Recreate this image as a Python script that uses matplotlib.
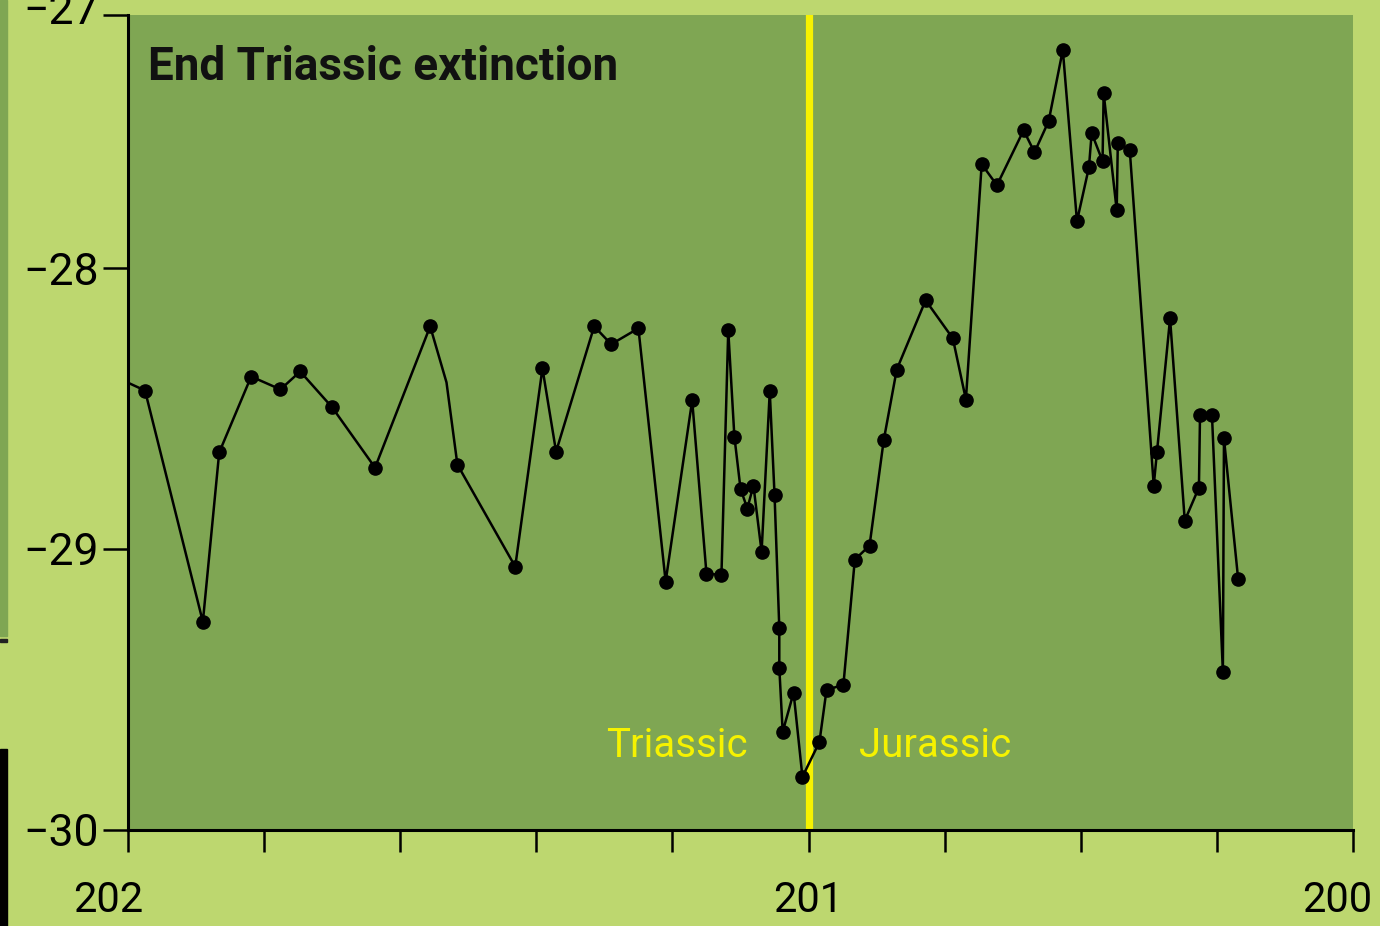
import numpy as np
import matplotlib
matplotlib.use("Agg")
import matplotlib.pyplot as plt
from matplotlib.patches import Rectangle
from matplotlib.transforms import ScaledTranslation

# Age (Ma) and carbon-isotope values of the record
age_ma = [202.026, 201.975, 201.890, 201.866, 201.819, 201.776, 201.747, 201.700,
          201.637, 201.556, 201.532, 201.516, 201.431, 201.391, 201.371, 201.315,
          201.290, 201.250, 201.210, 201.171, 201.150, 201.128, 201.118, 201.109,
          201.100, 201.090, 201.081, 201.069, 201.057, 201.050, 201.043, 201.043,
          201.038, 201.022, 201.009, 200.980, 200.967, 200.936, 200.915, 200.888,
          200.862, 200.838, 200.785, 200.735, 200.711, 200.682, 200.654, 200.605,
          200.585, 200.559, 200.533, 200.507, 200.485, 200.480, 200.460, 200.458,
          200.434, 200.432, 200.410, 200.366, 200.360, 200.336, 200.309, 200.283,
          200.281, 200.259, 200.239, 200.237, 200.211]
d13c = [-28.379, -28.436, -29.260, -28.657, -28.386, -28.432, -28.368, -28.496,
        -28.711, -28.207, -28.407, -28.700, -29.064, -28.357, -28.654, -28.207,
        -28.271, -28.214, -29.117, -28.471, -29.089, -29.093, -28.221, -28.600,
        -28.786, -28.857, -28.775, -29.011, -28.439, -28.807, -29.281, -29.423,
        -29.651, -29.512, -29.811, -29.687, -29.502, -29.484, -29.039, -28.989,
        -28.614, -28.361, -28.114, -28.250, -28.468, -27.589, -27.672, -27.455,
        -27.542, -27.419, -27.138, -27.814, -27.601, -27.466, -27.577, -27.308,
        -27.771, -27.506, -27.534, -28.775, -28.654, -28.179, -28.900, -28.782,
        -28.525, -28.525, -29.438, -28.607, -29.107]
unmarked = [10]  # bend in the trace without a sample dot

x_ticks = [202, 201.8, 201.6, 201.4, 201.2, 201, 200.75, 200.5, 200.25, 200]
x_labels = ["202", "", "", "", "", "201", "", "", "", "200"]
y_ticks = [-30, -29, -28, -27]
y_labels = ["\u221230", "\u221229", "\u221228", "\u221227"]

boundary_age = 201.0
title = "End Triassic extinction"
left_period = "Triassic"
right_period = "Jurassic"

OUTER = "#bdd76f"
INNER = "#7fa653"
YELLOW = "#f6f200"
FONT = ["Roboto", "DejaVu Sans"]


# piecewise-linear age axis (202-201 drawn in 5 steps, 201-200 in 4)
def age_fwd(a):
    a = np.asarray(a, dtype=float)
    return np.where(a >= 201, (202 - a) * 5.0, 5.0 + (201 - a) * 4.0)


def age_inv(p):
    p = np.asarray(p, dtype=float)
    return np.where(p <= 5, 202 - p / 5.0, 201 - (p - 5) / 4.0)


# piecewise-linear value axis
def val_fwd(v):
    v = np.asarray(v, dtype=float)
    return np.where(v <= -29, (v + 30) * 281.0,
                    np.where(v <= -28, 281.0 + (v + 29) * 280.0,
                             561.0 + (v + 28) * 253.0))


def val_inv(d):
    d = np.asarray(d, dtype=float)
    return np.where(d <= 281, -30 + d / 281.0,
                    np.where(d <= 561, -29 + (d - 281) / 280.0,
                             -28 + (d - 561) / 253.0))


fig = plt.figure(figsize=(13.8, 9.26), dpi=100, facecolor=OUTER)
W, H = 1380, 926
ax = fig.add_axes([128 / W, (H - 830) / H, (1353 - 128) / W, (830 - 15) / H])
ax.set_facecolor(INNER)

ax.set_xscale("function", functions=(age_fwd, age_inv))
ax.set_yscale("function", functions=(val_fwd, val_inv))
ax.set_xlim(200, 202)
ax.set_ylim(-30, -27)

ax.axvline(boundary_age, color=YELLOW, lw=5.2, zorder=2)

marks = [i for i in range(len(age_ma)) if i not in unmarked]
ax.plot(age_ma, d13c, color="black", lw=1.8, marker="o", markersize=9.5,
        markevery=marks, zorder=3)

for s in ("top", "right"):
    ax.spines[s].set_visible(False)
for s in ("left", "bottom"):
    ax.spines[s].set_linewidth(2.2)
    ax.spines[s].set_color("black")

ax.set_xticks(x_ticks, x_labels)
ax.set_yticks(y_ticks, y_labels)
ax.tick_params(axis="x", length=16, width=1.8, pad=20, labelsize=30, color="black")
ax.tick_params(axis="y", length=18, width=1.8, pad=3, labelsize=32, color="black")
for lab in ax.get_xticklabels() + ax.get_yticklabels():
    lab.set_family(FONT)

xl = ax.get_xticklabels()
edge_shift = {0: -20, len(xl) - 1: -16}
for i, dx in edge_shift.items():
    xl[i].set_transform(xl[i].get_transform()
                        + ScaledTranslation(dx / 100, 0, fig.dpi_scale_trans))
yl = ax.get_yticklabels()
yl[-1].set_transform(yl[-1].get_transform()
                     + ScaledTranslation(0, 8 / 100, fig.dpi_scale_trans))

ax.text(20 / 1225, (830 - 80) / 815, title, transform=ax.transAxes,
        fontsize=33, fontweight="bold", family=FONT, color="#111111",
        ha="left", va="baseline")

ax.annotate(left_period, xy=(boundary_age, -29.74), xytext=(-44, 0),
            textcoords="offset points", ha="right", va="baseline",
            fontsize=29, color=YELLOW, family=FONT)
ax.annotate(right_period, xy=(boundary_age, -29.74), xytext=(36, 0),
            textcoords="offset points", ha="left", va="baseline",
            fontsize=29, color=YELLOW, family=FONT)

# thin strip along the left edge of the panel
fig.patches.append(Rectangle((0, (H - 636) / H), 7 / W, 636 / H,
                             transform=fig.transFigure, color=INNER, zorder=0))
fig.patches.append(Rectangle((0, (H - 642) / H), 7 / W, 3 / H,
                             transform=fig.transFigure, color="#222222", zorder=0))
fig.patches.append(Rectangle((0, 0), 7 / W, (H - 749) / H,
                             transform=fig.transFigure, color="black", zorder=0))

fig.savefig("out.png", dpi=100, facecolor=OUTER)
